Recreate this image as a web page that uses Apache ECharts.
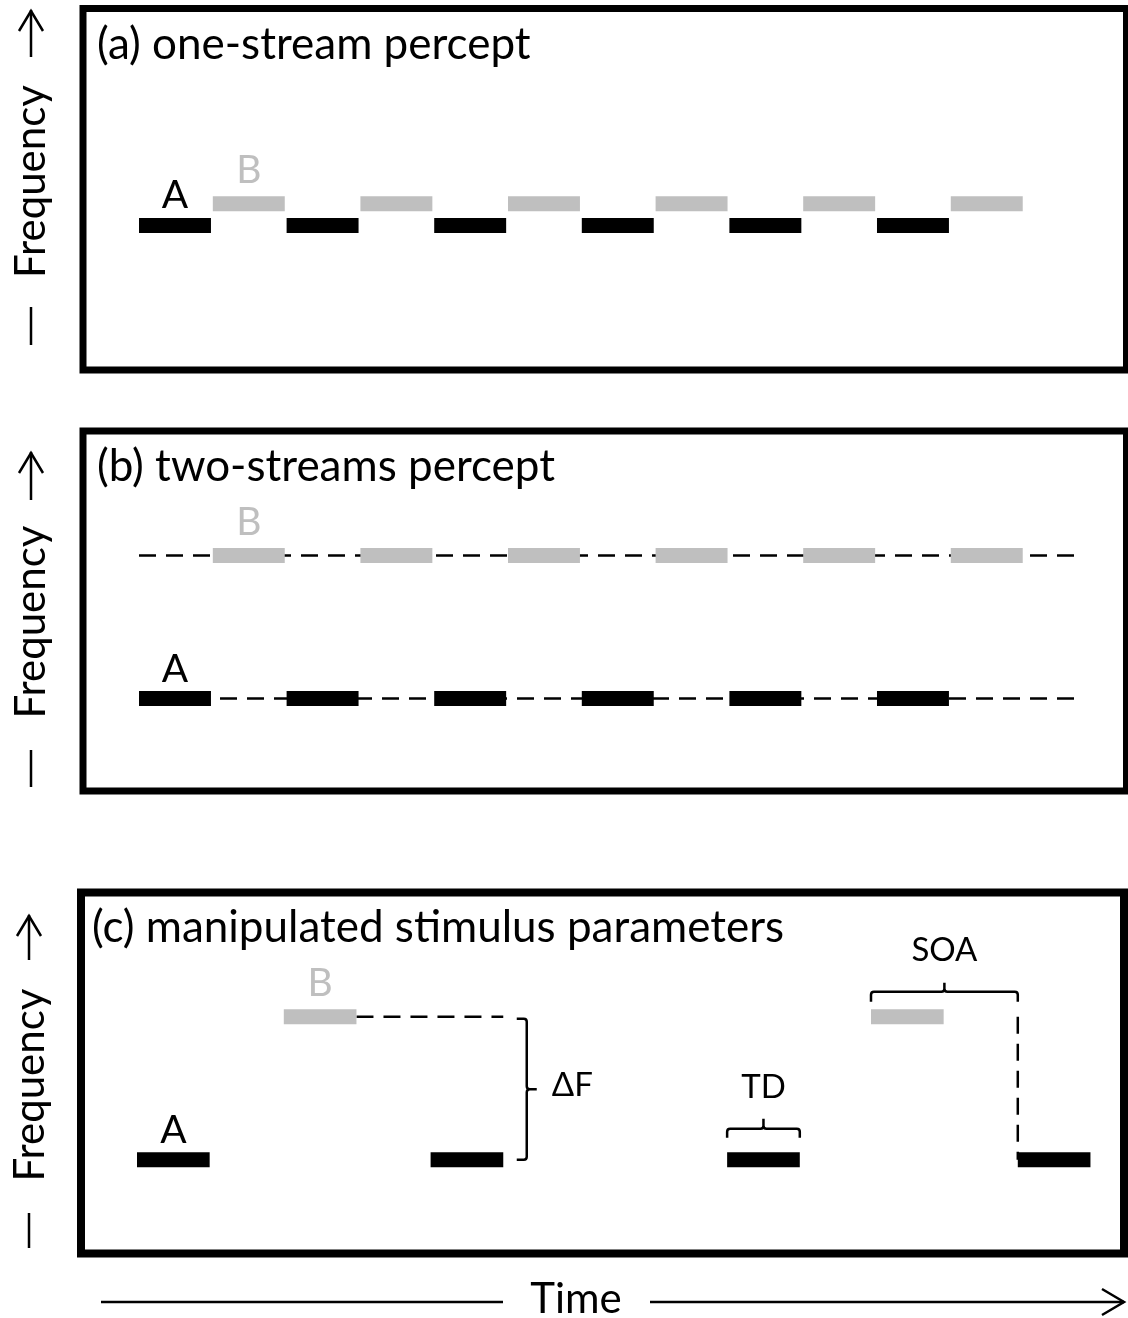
<!DOCTYPE html>
<html><head><meta charset="utf-8">
<script src="https://cdn.jsdelivr.net/npm/echarts@6/dist/echarts.min.js"></script>
<style>html,body{margin:0;padding:0;background:#fff}#chart{width:1128px;height:1318px}</style>
</head><body><div id="chart"></div>
<script>
// ---------------- data (time in tone-slot units, frequency in arbitrary units) ----------------
const panelTitles = ['(a) one-stream percept', '(b) two-streams percept', '(c) manipulated stimulus parameters'];
const axisNameY = 'Frequency';
const axisNameX = 'Time';

// panel (a): one-stream percept
const aOnsetsA = [0, 2, 4, 6, 8, 10];
const aOnsetsB = [1, 3, 5, 7, 9, 11];
const aFreqA = 4.0;
const aFreqB = 4.6;
const abDuration = 0.975;

// panel (b): two-streams percept
const bOnsetsA = [0, 2, 4, 6, 8, 10];
const bOnsetsB = [1, 3, 5, 7, 9, 11];
const bFreqA = 2.57;
const bFreqB = 6.54;
const bStreamSpan = [0, 12.75];

// panel (c): manipulated stimulus parameters
const cOnsetsA = [0, 4, 8.04, 12];
const cOnsetsB = [2, 10];
const cFreqA = 2.6;
const cFreqB = 6.56;
const cDuration = 0.99;
const cDeltaFTime = 5.31;          // time position of the ΔF brace
const cGuideH = [2.99, 4.99];      // dashed guide at B frequency
const cGuideVTime = 12;            // dashed guide from B down to A
const cTDTone = [8.04, 8.04 + 0.99];
const cSOASpan = [10, 12];

// ---------------- styling / layout ----------------
const FONT = 'Lato, "Open Sans", sans-serif';
const BLACK = '#000000';
const GREY = '#bfbfbf';
const TONE_H = 15;
const grids = [
  {left: 83, top: 8.5, width: 1043.5, height: 361.5},
  {left: 83, top: 431, width: 1043.5, height: 360},
  {left: 81, top: 892.5, width: 1043, height: 361}
];
const borderW = [7, 7, 8];
const xRanges = [[-0.759, 13.381], [-0.759, 13.381], [-0.763, 13.447]];

function toneData(onA, onB, fA, fB, dur) {
  const d = [];
  onA.forEach(t => d.push([t, fA, dur, 0]));
  onB.forEach(t => d.push([t, fB, dur, 1]));
  return d;
}
function firstLabels(onA, onB, fA, fB, dur) {
  return [[onA[0] + dur / 2, fA, 0], [onB[0] + dur / 2, fB, 1]];
}

function toneSeries(p, data) {
  return {
    type: 'custom', xAxisIndex: p, yAxisIndex: p, z: 5, silent: true,
    data: data,
    renderItem: function (params, api) {
      const s = api.coord([api.value(0), api.value(1)]);
      const e = api.coord([api.value(0) + api.value(2), api.value(1)]);
      return {
        type: 'rect',
        shape: {x: s[0], y: s[1] - TONE_H / 2, width: e[0] - s[0], height: TONE_H},
        style: {fill: api.value(3) === 0 ? BLACK : GREY}
      };
    }
  };
}
function labelSeries(p, data) {
  return {
    type: 'custom', xAxisIndex: p, yAxisIndex: p, z: 6, silent: true,
    data: data,
    renderItem: function (params, api) {
      const c = api.coord([api.value(0), api.value(1)]);
      const isA = api.value(2) === 0;
      return {
        type: 'text', x: c[0], y: c[1] - (isA ? 29.5 : 33),
        style: {
          text: isA ? 'A' : 'B', fill: isA ? BLACK : GREY,
          fontSize: 39, fontFamily: FONT,
          align: 'center', verticalAlign: 'middle', textAlign: 'center', textVerticalAlign: 'middle'
        }
      };
    }
  };
}
function dashedLine(p, pts) {
  return {
    type: 'line', xAxisIndex: p, yAxisIndex: p, z: 3, silent: true,
    symbol: 'none', data: pts,
    lineStyle: {color: BLACK, width: 2.5, type: [17, 10]}
  };
}
function hBrace(x1, x2, y, leg, nub, r) {
  const xm = (x1 + x2) / 2;
  return `M${x1},${y + leg} L${x1},${y + r} Q${x1},${y} ${x1 + r},${y} L${xm - r},${y} Q${xm},${y} ${xm},${y - r} L${xm},${y - nub} ` +
    `M${xm},${y - r} Q${xm},${y} ${xm + r},${y} L${x2 - r},${y} Q${x2},${y} ${x2},${y + r} L${x2},${y + leg}`;
}
function vBrace(x, y1, y2, leg, nub, r) {
  const ym = (y1 + y2) / 2;
  return `M${x - leg},${y1} L${x - r},${y1} Q${x},${y1} ${x},${y1 + r} L${x},${ym - r} Q${x},${ym} ${x + r},${ym} L${x + nub},${ym} ` +
    `M${x + r},${ym} Q${x},${ym} ${x},${ym + r} L${x},${y2 - r} Q${x},${y2} ${x - r},${y2} L${x - leg},${y2}`;
}
const lineStyleBrace = {fill: null, stroke: BLACK, lineWidth: 2.5};
function annoText(text, x, y, align) {
  return {
    type: 'text', x: x, y: y,
    style: {text: text, fill: BLACK, fontSize: 33, fontFamily: FONT,
      align: align, verticalAlign: 'middle', textAlign: align, textVerticalAlign: 'middle'}
  };
}

const braceSeries = {
  type: 'custom', xAxisIndex: 2, yAxisIndex: 2, z: 6, silent: true,
  data: [[0]],
  renderItem: function (params, api) {
    // ΔF brace
    const dx = api.coord([cDeltaFTime, cFreqB]);
    const dy2 = api.coord([cDeltaFTime, cFreqA])[1];
    // TD brace
    const td1 = api.coord([cTDTone[0], cFreqA]);
    const td2 = api.coord([cTDTone[1], cFreqA]);
    const tdY = td1[1] - 31;
    // SOA brace
    const s1 = api.coord([cSOASpan[0], cFreqB]);
    const s2 = api.coord([cSOASpan[1], cFreqB]);
    const sY = s1[1] - 25;
    return {
      type: 'group',
      children: [
        {type: 'path', shape: {pathData: vBrace(dx[0], dx[1] + 2, dy2, 10, 10, 3)}, style: lineStyleBrace},
        annoText('\u0394F', dx[0] + 25, (dx[1] + dy2) / 2 - 3, 'left'),
        {type: 'path', shape: {pathData: hBrace(td1[0], td2[0], tdY, 9, 10, 3)}, style: lineStyleBrace},
        annoText('TD', (td1[0] + td2[0]) / 2, tdY - 41, 'center'),
        {type: 'path', shape: {pathData: hBrace(s1[0], s2[0], sY, 10, 9, 3)}, style: lineStyleBrace},
        annoText('SOA', (s1[0] + s2[0]) / 2, sY - 41, 'center')
      ]
    };
  }
};

const series = [
  toneSeries(0, toneData(aOnsetsA, aOnsetsB, aFreqA, aFreqB, abDuration)),
  labelSeries(0, firstLabels(aOnsetsA, aOnsetsB, aFreqA, aFreqB, abDuration)),
  dashedLine(1, [[bStreamSpan[0], bFreqB], [bStreamSpan[1], bFreqB]]),
  dashedLine(1, [[bStreamSpan[0], bFreqA], [bStreamSpan[1], bFreqA]]),
  toneSeries(1, toneData(bOnsetsA, bOnsetsB, bFreqA, bFreqB, abDuration)),
  labelSeries(1, firstLabels(bOnsetsA, bOnsetsB, bFreqA, bFreqB, abDuration)),
  dashedLine(2, [[cGuideH[0], cFreqB], [cGuideH[1], cFreqB]]),
  dashedLine(2, [[cGuideVTime, cFreqB], [cGuideVTime, cFreqA]]),
  toneSeries(2, toneData(cOnsetsA, cOnsetsB, cFreqA, cFreqB, cDuration)),
  labelSeries(2, firstLabels(cOnsetsA, cOnsetsB, cFreqA, cFreqB, cDuration)),
  braceSeries
];

// ---------------- graphic: titles, axis names, arrows ----------------
const titlePos = [[97, 45], [97, 467], [92, 928]];
const freqLabelPos = [[31, 181.5], [31, 622], [30, 1085]];
const freqArrow = [[31, 10, 57], [31, 452, 500], [29, 915, 960]];
const freqDash = [[31, 307, 345], [31, 750, 787], [29, 1213, 1248]];
const graphic = [];
panelTitles.forEach((t, i) => {
  graphic.push({type: 'text', x: titlePos[i][0], y: titlePos[i][1], silent: true,
    style: {text: t, fill: BLACK, fontSize: 44, fontFamily: FONT,
      align: 'left', verticalAlign: 'middle', textAlign: 'left', textVerticalAlign: 'middle'}});
});
const strokeSt = {stroke: BLACK, lineWidth: 2.5, fill: null};
for (let i = 0; i < 3; i++) {
  graphic.push({type: 'text', x: freqLabelPos[i][0], y: freqLabelPos[i][1], rotation: Math.PI / 2, silent: true,
    style: {text: axisNameY, fill: BLACK, fontSize: 42, fontFamily: FONT,
      align: 'center', verticalAlign: 'middle', textAlign: 'center', textVerticalAlign: 'middle'}});
  const [ax, ay1, ay2] = freqArrow[i];
  graphic.push({type: 'line', silent: true, shape: {x1: ax, y1: ay1, x2: ax, y2: ay2}, style: strokeSt});
  graphic.push({type: 'polyline', silent: true, shape: {points: [[ax - 12, ay1 + 21], [ax, ay1 + 1], [ax + 12, ay1 + 21]]}, style: strokeSt});
  const [dx, dy1, dy2] = freqDash[i];
  graphic.push({type: 'line', silent: true, shape: {x1: dx, y1: dy1, x2: dx, y2: dy2}, style: strokeSt});
}
// time axis arrow
graphic.push({type: 'line', silent: true, shape: {x1: 101, y1: 1302, x2: 503, y2: 1302}, style: strokeSt});
graphic.push({type: 'line', silent: true, shape: {x1: 650, y1: 1302, x2: 1124, y2: 1302}, style: strokeSt});
graphic.push({type: 'polyline', silent: true, shape: {points: [[1102, 1289], [1124, 1302], [1102, 1315]]}, style: strokeSt});
graphic.push({type: 'text', x: 576, y: 1299, silent: true,
  style: {text: axisNameX, fill: BLACK, fontSize: 42, fontFamily: FONT,
    align: 'center', verticalAlign: 'middle', textAlign: 'center', textVerticalAlign: 'middle'}});

const option = {
  animation: false,
  backgroundColor: '#ffffff',
  grid: grids.map((g, i) => Object.assign({show: true, borderColor: BLACK, borderWidth: borderW[i],
    backgroundColor: 'transparent', containLabel: false, outerBoundsMode: 'none'}, g)),
  xAxis: xRanges.map((r, i) => ({type: 'value', gridIndex: i, min: r[0], max: r[1], show: false})),
  yAxis: grids.map((g, i) => ({type: 'value', gridIndex: i, min: 0, max: 10, show: false})),
  series: series,
  graphic: graphic
};
const chart = echarts.init(document.getElementById('chart'), null, {renderer: 'canvas', width: 1128, height: 1318});
chart.setOption(option);
</script>
</body></html>
